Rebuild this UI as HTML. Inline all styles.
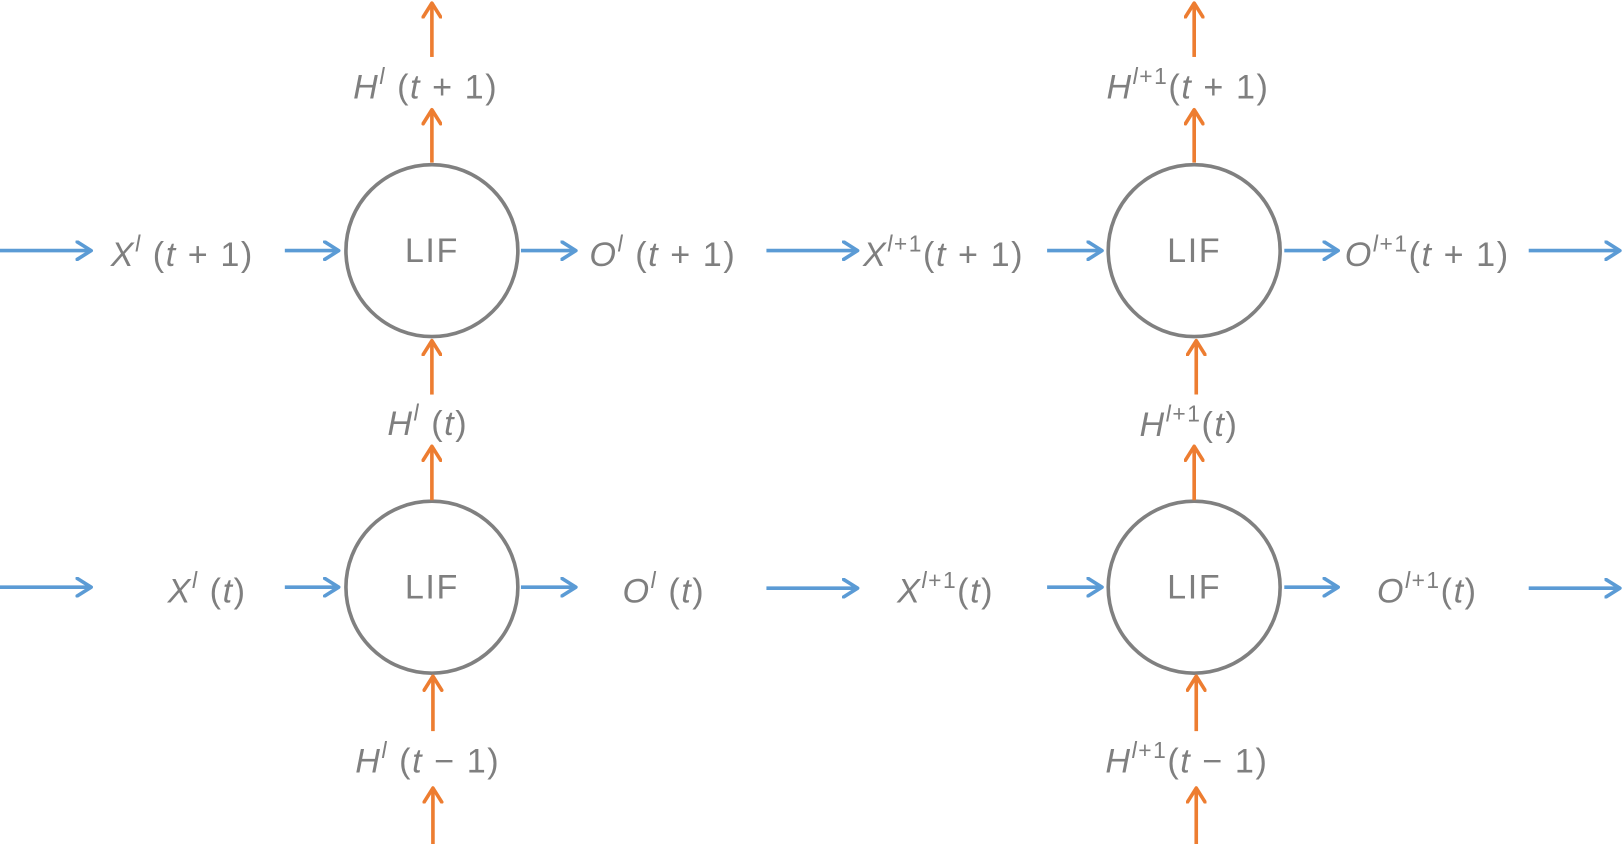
<!DOCTYPE html>
<html><head><meta charset="utf-8"><style>
html,body{margin:0;padding:0;background:#fff;}
svg{display:block;}
text{font-family:"Liberation Sans","DejaVu Sans",sans-serif;fill:#7f7f7f;}
.lbl{font-size:33px;letter-spacing:1.5px;}
.v{font-style:italic;}
.sup{font-size:22px;}
</style></head><body>
<svg width="1624" height="844" viewBox="0 0 1568 815" preserveAspectRatio="none">
<defs>
<marker id="ab" viewBox="0 0 17 20" refX="15" refY="10" markerWidth="17" markerHeight="20" markerUnits="userSpaceOnUse" orient="auto"><path d="M1.5,1.5 L15,10 L1.5,18.5" fill="none" stroke="#5B9BD5" stroke-width="3.5" stroke-linecap="round" stroke-linejoin="round"/></marker>
<marker id="ao" viewBox="0 0 17 20" refX="15" refY="10" markerWidth="17" markerHeight="20" markerUnits="userSpaceOnUse" orient="auto"><path d="M1.5,1.5 L15,10 L1.5,18.5" fill="none" stroke="#ED7D31" stroke-width="3.5" stroke-linecap="round" stroke-linejoin="round"/></marker>
</defs>
<style>
.bl{stroke:#5B9BD5;stroke-width:3.5;fill:none;}
.or{stroke:#ED7D31;stroke-width:3.5;fill:none;}
</style>
<g>
<circle cx="417" cy="242" r="83" fill="none" stroke="#808080" stroke-width="3.5"/>
<circle cx="1153" cy="242" r="83" fill="none" stroke="#808080" stroke-width="3.5"/>
<circle cx="417" cy="567" r="83" fill="none" stroke="#808080" stroke-width="3.5"/>
<circle cx="1153" cy="567" r="83" fill="none" stroke="#808080" stroke-width="3.5"/>
<text class="lbl" x="417" y="253" text-anchor="middle">LIF</text>
<text class="lbl" x="1153" y="253" text-anchor="middle">LIF</text>
<text class="lbl" x="417" y="578" text-anchor="middle">LIF</text>
<text class="lbl" x="1153" y="578" text-anchor="middle">LIF</text>
</g>
<g>
<line class="bl" x1="0" y1="242" x2="88" y2="242" marker-end="url(#ab)"/>
<line class="bl" x1="275" y1="242" x2="327" y2="242" marker-end="url(#ab)"/>
<line class="bl" x1="503" y1="242" x2="556" y2="242" marker-end="url(#ab)"/>
<line class="bl" x1="740" y1="242" x2="828" y2="242" marker-end="url(#ab)"/>
<line class="bl" x1="1011" y1="242" x2="1064" y2="242" marker-end="url(#ab)"/>
<line class="bl" x1="1240" y1="242" x2="1292" y2="242" marker-end="url(#ab)"/>
<line class="bl" x1="1476" y1="242" x2="1564" y2="242" marker-end="url(#ab)"/>
<line class="bl" x1="0" y1="567" x2="88" y2="567" marker-end="url(#ab)"/>
<line class="bl" x1="275" y1="567" x2="327" y2="567" marker-end="url(#ab)"/>
<line class="bl" x1="503" y1="567" x2="556" y2="567" marker-end="url(#ab)"/>
<line class="bl" x1="740" y1="568" x2="828" y2="568" marker-end="url(#ab)"/>
<line class="bl" x1="1011" y1="567" x2="1064" y2="567" marker-end="url(#ab)"/>
<line class="bl" x1="1240" y1="567" x2="1292" y2="567" marker-end="url(#ab)"/>
<line class="bl" x1="1476" y1="568" x2="1564" y2="568" marker-end="url(#ab)"/>
</g>
<g>
<line class="or" x1="417" y1="55" x2="417" y2="3" marker-end="url(#ao)"/>
<line class="or" x1="417" y1="157" x2="417" y2="106" marker-end="url(#ao)"/>
<line class="or" x1="417" y1="381" x2="417" y2="329" marker-end="url(#ao)"/>
<line class="or" x1="417" y1="483" x2="417" y2="431" marker-end="url(#ao)"/>
<line class="or" x1="418" y1="706" x2="418" y2="653" marker-end="url(#ao)"/>
<line class="or" x1="418" y1="815" x2="418" y2="761" marker-end="url(#ao)"/>
<line class="or" x1="1153" y1="55" x2="1153" y2="3" marker-end="url(#ao)"/>
<line class="or" x1="1153" y1="157" x2="1153" y2="106" marker-end="url(#ao)"/>
<line class="or" x1="1155" y1="381" x2="1155" y2="329" marker-end="url(#ao)"/>
<line class="or" x1="1153" y1="483" x2="1153" y2="431" marker-end="url(#ao)"/>
<line class="or" x1="1155" y1="706" x2="1155" y2="653" marker-end="url(#ao)"/>
<line class="or" x1="1155" y1="815" x2="1155" y2="761" marker-end="url(#ao)"/>
</g>
<g>
<text class="lbl" x="176" y="257" text-anchor="middle"><tspan class="v">X</tspan><tspan class="sup v" dy="-14">l</tspan><tspan dy="14"> (</tspan><tspan class="v">t</tspan> + 1)</text>
<text class="lbl" x="640" y="257" text-anchor="middle"><tspan class="v">O</tspan><tspan class="sup v" dy="-14">l</tspan><tspan dy="14"> (</tspan><tspan class="v">t</tspan> + 1)</text>
<text class="lbl" x="911" y="257" text-anchor="middle"><tspan class="v">X</tspan><tspan class="sup" dy="-14"><tspan class="v">l</tspan>+1</tspan><tspan dy="14">(</tspan><tspan class="v">t</tspan> + 1)</text>
<text class="lbl" x="1378" y="257" text-anchor="middle"><tspan class="v">O</tspan><tspan class="sup" dy="-14"><tspan class="v">l</tspan>+1</tspan><tspan dy="14">(</tspan><tspan class="v">t</tspan> + 1)</text>
<text class="lbl" x="200" y="582" text-anchor="middle"><tspan class="v">X</tspan><tspan class="sup v" dy="-14">l</tspan><tspan dy="14"> (</tspan><tspan class="v">t</tspan>)</text>
<text class="lbl" x="641" y="582" text-anchor="middle"><tspan class="v">O</tspan><tspan class="sup v" dy="-14">l</tspan><tspan dy="14"> (</tspan><tspan class="v">t</tspan>)</text>
<text class="lbl" x="913" y="582" text-anchor="middle"><tspan class="v">X</tspan><tspan class="sup" dy="-14"><tspan class="v">l</tspan>+1</tspan><tspan dy="14">(</tspan><tspan class="v">t</tspan>)</text>
<text class="lbl" x="1378" y="582" text-anchor="middle"><tspan class="v">O</tspan><tspan class="sup" dy="-14"><tspan class="v">l</tspan>+1</tspan><tspan dy="14">(</tspan><tspan class="v">t</tspan>)</text>
<text class="lbl" x="411" y="95" text-anchor="middle"><tspan class="v">H</tspan><tspan class="sup v" dy="-14">l</tspan><tspan dy="14"> (</tspan><tspan class="v">t</tspan> + 1)</text>
<text class="lbl" x="1147" y="95" text-anchor="middle"><tspan class="v">H</tspan><tspan class="sup" dy="-14"><tspan class="v">l</tspan>+1</tspan><tspan dy="14">(</tspan><tspan class="v">t</tspan> + 1)</text>
<text class="lbl" x="413" y="420" text-anchor="middle"><tspan class="v">H</tspan><tspan class="sup v" dy="-14">l</tspan><tspan dy="14"> (</tspan><tspan class="v">t</tspan>)</text>
<text class="lbl" x="1148" y="421" text-anchor="middle"><tspan class="v">H</tspan><tspan class="sup" dy="-14"><tspan class="v">l</tspan>+1</tspan><tspan dy="14">(</tspan><tspan class="v">t</tspan>)</text>
<text class="lbl" x="413" y="746" text-anchor="middle"><tspan class="v">H</tspan><tspan class="sup v" dy="-14">l</tspan><tspan dy="14"> (</tspan><tspan class="v">t</tspan> − 1)</text>
<text class="lbl" x="1146" y="746" text-anchor="middle"><tspan class="v">H</tspan><tspan class="sup" dy="-14"><tspan class="v">l</tspan>+1</tspan><tspan dy="14">(</tspan><tspan class="v">t</tspan> − 1)</text>
</g>
</svg>
</body></html>
